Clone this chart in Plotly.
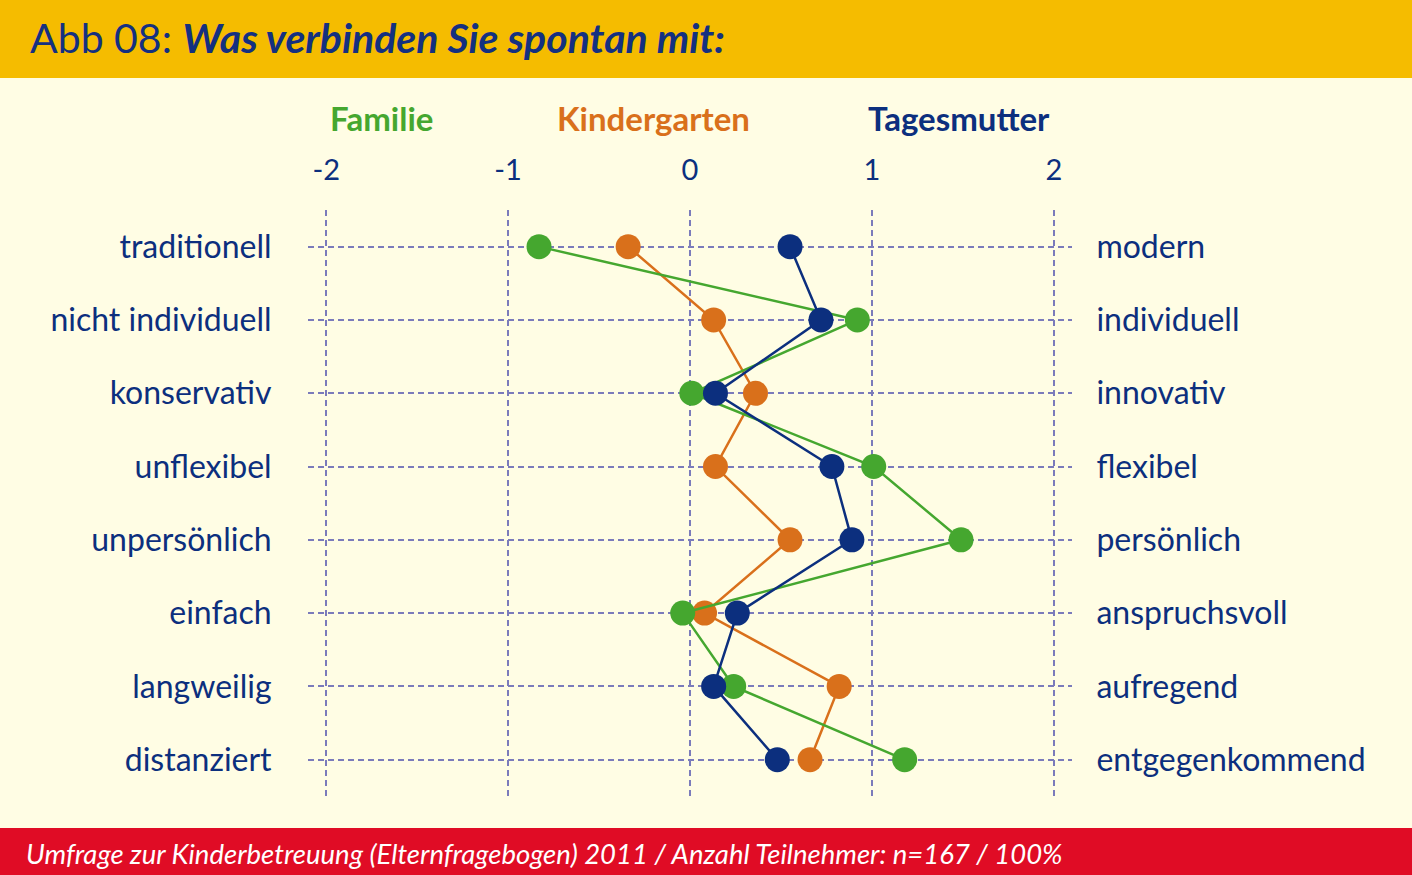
import plotly.graph_objects as go

left_labels = ["traditionell", "nicht individuell", "konservativ", "unflexibel",
               "unpersönlich", "einfach", "langweilig", "distanziert"]
right_labels = ["modern", "individuell", "innovativ", "flexibel",
                "persönlich", "anspruchsvoll", "aufregend", "entgegenkommend"]
x_ticks = [-2, -1, 0, 1, 2]

familie = [-0.83, 0.92, 0.01, 1.01, 1.49, -0.04, 0.24, 1.18]
kindergarten = [-0.34, 0.13, 0.36, 0.14, 0.55, 0.08, 0.82, 0.66]
tagesmutter = [0.55, 0.72, 0.14, 0.78, 0.89, 0.26, 0.13, 0.48]

GREEN = "#45A72F"
ORANGE = "#D9701B"
NAVY = "#0C2F7E"
GRID = "#7B7BBB"
FONT = "Lato"

rows = list(range(len(left_labels)))

fig = go.Figure()
for name, vals, col in [("Kindergarten", kindergarten, ORANGE),
                        ("Familie", familie, GREEN),
                        ("Tagesmutter", tagesmutter, NAVY)]:
    fig.add_trace(go.Scatter(x=vals, y=rows, mode="lines+markers", name=name,
                             line=dict(color=col, width=2.5),
                             marker=dict(color=col, size=25), showlegend=False))
fig.add_trace(go.Scatter(x=[0], y=[0], yaxis="y2", mode="markers",
                         marker=dict(opacity=0), showlegend=False, hoverinfo="skip"))

yrange = [7.55, -0.5]
W, H = 1412, 875
L, R, T, B = 308, 340, 210, 75
pw, ph = W - L - R, H - T - B

def px(x):
    return (x - L) / pw

def py(y):
    return (H - B - y) / ph

fig.update_layout(
    width=W, height=H,
    margin=dict(l=L, r=R, t=T, b=B),
    paper_bgcolor="#FFFDE4", plot_bgcolor="#FFFDE4",
    font=dict(family=FONT, color=NAVY),
    xaxis=dict(range=[-2.1, 2.1], side="top", tickvals=x_ticks,
               ticktext=[str(v) for v in x_ticks],
               tickfont=dict(size=29, color=NAVY, family=FONT),
               ticks="outside", ticklen=17, tickcolor="rgba(0,0,0,0)",
               showgrid=True, gridcolor=GRID, gridwidth=1.6, griddash="6px,4px",
               zeroline=False, showline=False, fixedrange=True),
    yaxis=dict(range=yrange, tickvals=rows, ticktext=left_labels,
               tickfont=dict(size=32, color=NAVY, family=FONT),
               ticks="outside", ticklen=29, tickcolor="rgba(0,0,0,0)",
               showgrid=True, gridcolor=GRID, gridwidth=1.6, griddash="6px,4px",
               zeroline=False, showline=False),
    yaxis2=dict(range=yrange, overlaying="y", side="right", tickvals=rows,
                ticktext=right_labels,
                tickfont=dict(size=32, color=NAVY, family=FONT),
                ticks="outside", ticklen=17, tickcolor="rgba(0,0,0,0)",
                showgrid=False, zeroline=False, showline=False),
)

shapes = [
    dict(type="rect", xref="paper", yref="paper", x0=px(0), x1=px(W),
         y0=py(78), y1=py(0), fillcolor="#F5BC00", line=dict(width=0), layer="below"),
    dict(type="rect", xref="paper", yref="paper", x0=px(0), x1=px(W),
         y0=py(875), y1=py(828), fillcolor="#E00C25", line=dict(width=0), layer="below"),
]
fig.update_layout(shapes=shapes)

def ann(text, x, y, size, color, xanchor="center"):
    return dict(text=text, x=px(x), y=py(y), xref="paper", yref="paper",
                xanchor=xanchor, yanchor="middle", showarrow=False,
                font=dict(size=size, color=color, family=FONT))

annotations = [
    ann("Abb 08: <b><i>Was verbinden Sie spontan mit:</i></b>", 28, 38, 41, "#143080", "left"),
    ann("<i>Umfrage zur Kinderbetreuung (Elternfragebogen) 2011 / Anzahl Teilnehmer: n=167 / 100%</i>",
        24, 853, 27.5, "white", "left"),
    ann("<b>Familie</b>", 381, 118, 33, GREEN),
    ann("<b>Kindergarten</b>", 653, 118, 33, ORANGE),
    ann("<b>Tagesmutter</b>", 959, 118, 33, NAVY),
]
fig.update_layout(annotations=annotations)

fig.write_html("out.html", config={"displayModeBar": False},
               post_script="document.body.style.margin='0';document.body.style.overflow='hidden';")
